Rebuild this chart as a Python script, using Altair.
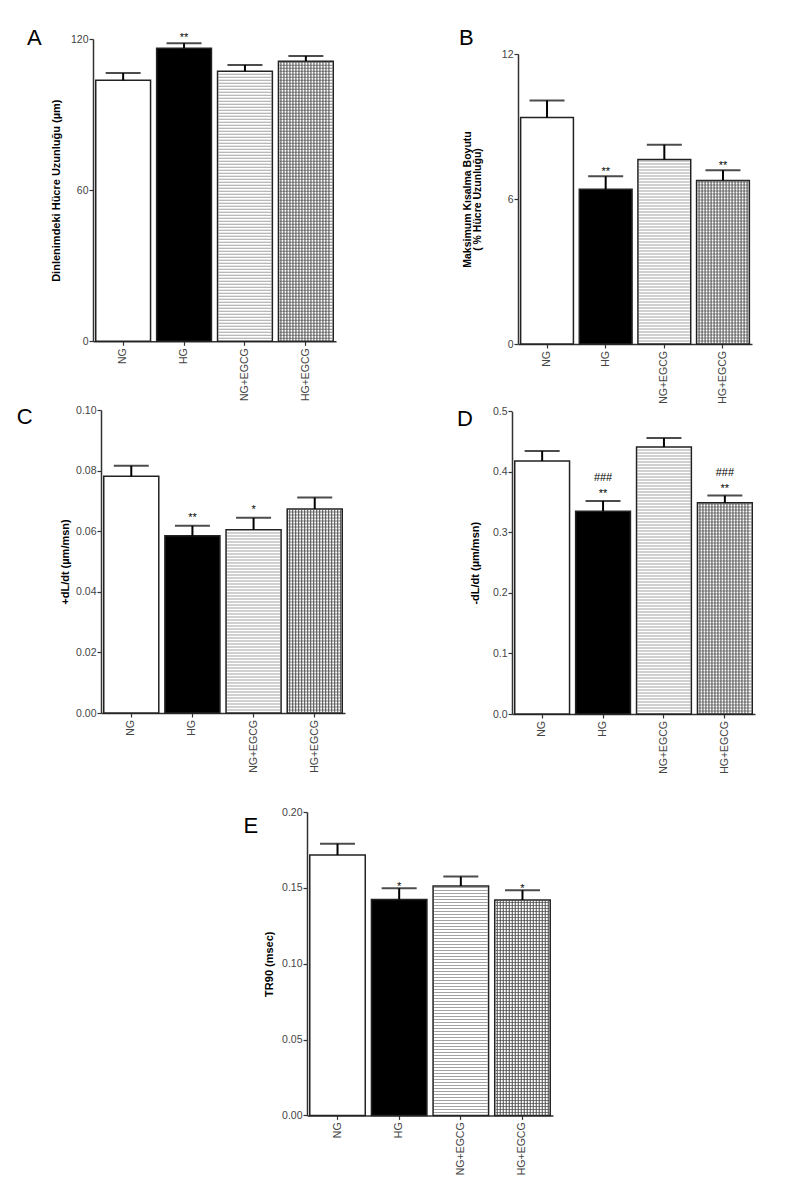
import altair as alt
import pandas as pd
import numpy as np

groups = ["NG", "HG", "NG+EGCG", "HG+EGCG"]
fill_colors = ["white", "black", "white", "white"]

a_mean = [103.6, 116.3, 107.2, 111.2]
a_sem = [2.9, 2.0, 2.5, 2.1]
a_sig = ["", "**", "", ""]

b_mean = [9.37, 6.40, 7.63, 6.77]
b_sem = [0.71, 0.54, 0.62, 0.42]
b_sig = ["", "**", "", "**"]

c_mean = [0.0781, 0.0585, 0.0605, 0.0673]
c_sem = [0.0035, 0.0033, 0.0039, 0.0038]
c_sig = ["", "**", "*", ""]

d_mean = [0.418, 0.335, 0.441, 0.349]
d_sem = [0.0165, 0.017, 0.015, 0.012]
d_sig = ["", "**", "", "**"]
d_sig2 = ["", "###", "", "###"]

e_mean = [0.1717, 0.1424, 0.1512, 0.1420]
e_sem = [0.0074, 0.0073, 0.0062, 0.0064]
e_sig = ["", "*", "", "*"]

FONT = "Liberation Sans"
PI, PO = 0.1, 0.045
HATCH = 3.0
CAPW = 35
NG = len(groups)
HCOL = "#7a7a7a"
GCOL = "#4a4a4a"


def panel(letter, ytitle, mean, sem, sig, ymax, ticks, fmt, W, H, top=0.0, xl=0.0,
          title_x=-31, title_size=11, letter_xy=(0, 0), star_dy=-3, sig2=None, sig2_dy=-20):
    units = NG - PI + 2 * PO
    step_px = (W - xl) / units
    bw = step_px * (1 - PI)
    hplot = H - top
    cap = [m + s for m, s in zip(mean, sem)]
    df = pd.DataFrame({"g": groups, "mean": mean, "cap": cap, "sig": sig, "fillc": fill_colors})
    if sig2 is not None:
        df["sig2"] = sig2

    xaxis = alt.Axis(labelAngle=-90, tickSize=4, labelPadding=2.5, labelFontSize=10.5,
                     labelColor="#444", labelFont=FONT, domainColor="#333", domainWidth=1.5,
                     tickColor="#333", tickWidth=1.2, title="")
    yaxis_kw = dict(values=ticks, format=fmt, tickSize=4, labelPadding=1, labelFontSize=10.5,
                    labelColor="#444", labelFont=FONT, domainColor="#333", domainWidth=1.5,
                    tickColor="#333", tickWidth=1.2, grid=False, title=ytitle,
                    titleFont=FONT, titleFontSize=title_size, titleFontWeight="bold",
                    titleColor="black", titleX=title_x, titleLineHeight=10)
    if xl:
        yaxis_kw["offset"] = -xl
    yaxis = alt.Axis(**yaxis_kw)
    xscale = alt.Scale(domain=groups, range=[xl, W], paddingInner=PI, paddingOuter=PO)
    yscale = alt.Scale(domain=[0, ymax], range=[H, top], nice=False, zero=True)

    def X():
        return alt.X("g:N", scale=xscale, axis=xaxis)

    def Y(f):
        return alt.Y(f + ":Q", scale=yscale, axis=yaxis)

    base = alt.Chart(df)
    bars = base.mark_bar(strokeWidth=0).encode(x=X(), y=Y("mean"), fill=alt.Fill("fillc:N", scale=None))

    # hatch pattern (decoration): horizontal lines
    step = ymax * HATCH / hplot
    hrows = []
    for i, col in ((2, HCOL), (3, GCOL)):
        for y in np.arange(step, mean[i] - 0.3 * step, step):
            hrows.append({"g": groups[i], "y": float(y), "c": col})
    hdf = pd.DataFrame(hrows)
    hl = alt.Chart(hdf).mark_tick(thickness=1, size=bw - 2).encode(
        x=X(), y=Y("y"), color=alt.Color("c:N", scale=None))

    outline = base.mark_bar(fillOpacity=0, stroke="#222", strokeWidth=1.5).encode(x=X(), y=Y("mean"))
    err = base.mark_rule(color="black", strokeWidth=2).encode(x=X(), y=Y("mean"), y2="cap:Q")
    capt = base.mark_tick(color="black", thickness=2, size=CAPW).encode(x=X(), y=Y("cap"))
    stars = base.mark_text(fontSize=11, font=FONT, baseline="alphabetic", dy=star_dy, color="black").encode(
        x=X(), y=Y("cap"), text="sig:N")
    layers = [bars, hl, outline, err, capt, stars]
    if sig2 is not None:
        layers.append(base.mark_text(fontSize=11, font=FONT, baseline="alphabetic", dy=sig2_dy,
                                     color="black").encode(x=X(), y=Y("cap"), text="sig2:N"))
    lt = alt.Chart(pd.DataFrame({"t": [letter]})).mark_text(
        align="left", baseline="top", fontSize=22, font=FONT, color="black").encode(
        x=alt.value(letter_xy[0]), y=alt.value(letter_xy[1]), text="t:N")
    layers.append(lt)
    main = alt.layer(*layers)

    # hatch pattern (decoration): vertical lines of the grid-filled bar, on a band-unit scale
    vrows = []
    start = PO + 3
    for off in np.arange(2.5, bw - 1.5, HATCH):
        vrows.append({"u": start + float(off) / step_px, "y0": 0.0, "y1": mean[3]})
    vdf = pd.DataFrame(vrows)
    vl = alt.Chart(vdf).mark_rule(strokeWidth=1, color=GCOL).encode(
        x=alt.X("u:Q", scale=alt.Scale(domain=[0, units], range=[xl, W], nice=False, zero=False), axis=None),
        y=Y("y0"), y2="y1:Q")

    return alt.layer(main, vl).resolve_scale(x="independent").properties(width=W, height=H)


A = panel("A", "Dinlenimdeki Hücre Uzunluğu (µm)", a_mean, a_sem, a_sig, 120, [0, 60, 120], "d",
          243, 302.3, title_x=-31.3, letter_xy=(-66, -11.3), star_dy=-2.7)
B = panel("B", ["Maksimum Kısalma Boyutu", "( % Hücre Uzunluğu)"], b_mean, b_sem, b_sig, 12, [0, 6, 12], "d",
          234, 305, top=15, title_x=-46, title_size=10.5, letter_xy=(-59, -11), star_dy=-1.4)
C = panel("C", "+dL/dt (µm/msn)", c_mean, c_sem, c_sig, 0.10, [0, 0.02, 0.04, 0.06, 0.08, 0.10], ".2f",
          252, 303, xl=8, title_x=-31, letter_xy=(-76.3, -2.6), star_dy=-4.7)
D = panel("D", "-dL/dt (µm/msn)", d_mean, d_sem, d_sig, 0.5, [0, 0.1, 0.2, 0.3, 0.4, 0.5], ".1f",
          243, 304, top=1.4, title_x=-32, letter_xy=(-55.1, -1.2), star_dy=-4, sig2=d_sig2, sig2_dy=-20)
E = panel("E", "TR90 (msec)", e_mean, e_sem, e_sig, 0.20, [0, 0.05, 0.10, 0.15, 0.20], ".2f",
          246, 303.4, title_x=-33, letter_xy=(-63.4, 4.4), star_dy=2.0)

spacer = alt.Chart(pd.DataFrame({"a": [0]})).mark_rect(opacity=0).encode(
    x=alt.value(0), x2=alt.value(1), y=alt.value(0), y2=alt.value(1)).properties(width=214, height=10)

row1 = alt.hconcat(A, B, spacing=182, bounds="flush")
row2 = alt.hconcat(C, D, spacing=167, bounds="flush")
row3 = alt.hconcat(spacer, E, spacing=0, bounds="flush")

top_rows = alt.vconcat(row1, row2, spacing=0)
chart = alt.vconcat(top_rows, row3, spacing=32).properties(
    padding={"left": 8, "top": 18, "right": 5, "bottom": 5}
).configure_view(stroke="transparent")

chart.save("out.html", embed_options={"renderer": "svg", "actions": False})
